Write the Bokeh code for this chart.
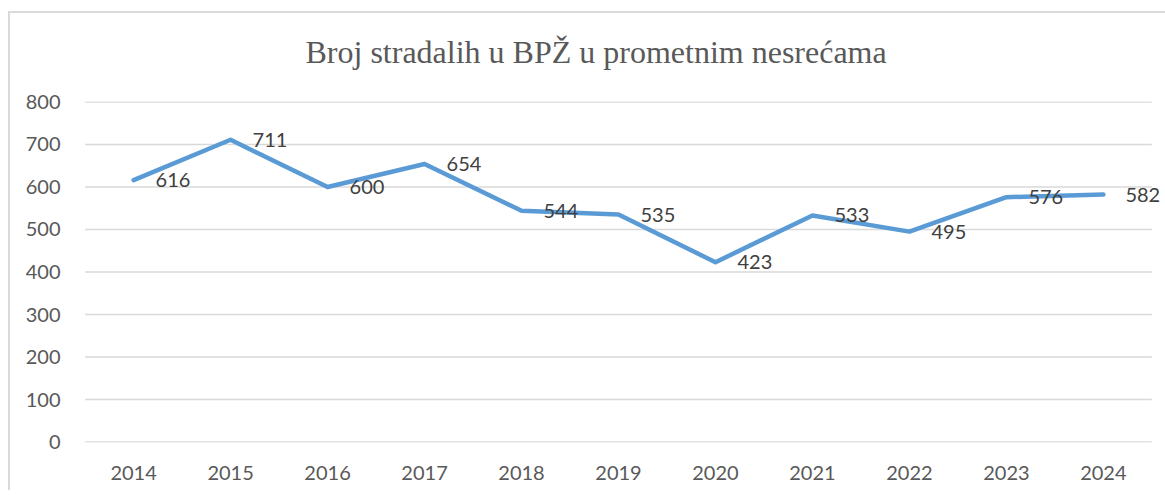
from bokeh.plotting import figure
from bokeh.models import ColumnDataSource, Range1d, FactorRange
from bokeh.core.properties import value
from bokeh.transform import dodge
from bokeh.embed import file_html
from bokeh.resources import INLINE

years = ["2014", "2015", "2016", "2017", "2018", "2019", "2020", "2021", "2022", "2023", "2024"]
victims = [616, 711, 600, 654, 544, 535, 423, 533, 495, 576, 582]
y_ticks = [0, 100, 200, 300, 400, 500, 600, 700, 800]
title_text = "Broj stradalih u BPŽ u prometnim nesrećama"

src = ColumnDataSource(dict(x=years, y=victims, lbl=[str(v) for v in victims]))
grid_src = ColumnDataSource(dict(y=y_ticks, x0=[years[0]] * len(y_ticks), x1=[years[-1]] * len(y_ticks)))

xr = FactorRange(*years, range_padding=0.12, range_padding_units="absolute")
p = figure(
    width=1165, height=490,
    x_range=xr,
    y_range=Range1d(-1, 801),
    output_backend="svg", toolbar_location=None,
    min_border_left=73, min_border_right=2, min_border_top=101, min_border_bottom=48,
)
p.styles = {
    "background-image": "linear-gradient(#d9d9d9,#d9d9d9), linear-gradient(#d9d9d9,#d9d9d9)",
    "background-size": "100% 2px, 2px 100%",
    "background-position": "8px 11px, 8px 11px",
    "background-repeat": "no-repeat",
}
p.outline_line_color = None
p.background_fill_color = "white"
p.border_fill_color = None

p.title.text = title_text
p.title.text_font = "Liberation Serif"
p.title.text_font_size = "32px"
p.title.text_font_style = "normal"
p.title.text_color = "#595959"
p.title.align = "left"
p.title.offset = 232
p.title.standoff = 63

# horizontal gridlines spanning the category band
p.segment(x0=dodge("x0", -0.5, range=xr), x1=dodge("x1", 0.5, range=xr), y0="y", y1="y",
          source=grid_src, line_color="#d9d9d9", line_width=1.5)

p.line("x", "y", source=src, line_color="#5B9BD5", line_width=4.5, line_cap="round", line_join="round")
p.text("x", "y", text="lbl", source=src, x_offset=22, text_align="left", text_baseline="middle",
       text_font=value("Lato"), text_font_size="20px", text_color="#404040")

p.yaxis.ticker = y_ticks
p.xgrid.grid_line_color = None
p.ygrid.grid_line_color = None

for ax in (p.xaxis, p.yaxis):
    ax.axis_line_color = None
    ax.major_tick_line_color = None
    ax.minor_tick_line_color = None
    ax.major_label_text_font = "Lato"
    ax.major_label_text_font_size = "20px"
    ax.major_label_text_color = "#595959"
p.yaxis.major_label_standoff = 7
p.xaxis.major_label_standoff = 17

open("out.html", "w").write(file_html(p, INLINE))
